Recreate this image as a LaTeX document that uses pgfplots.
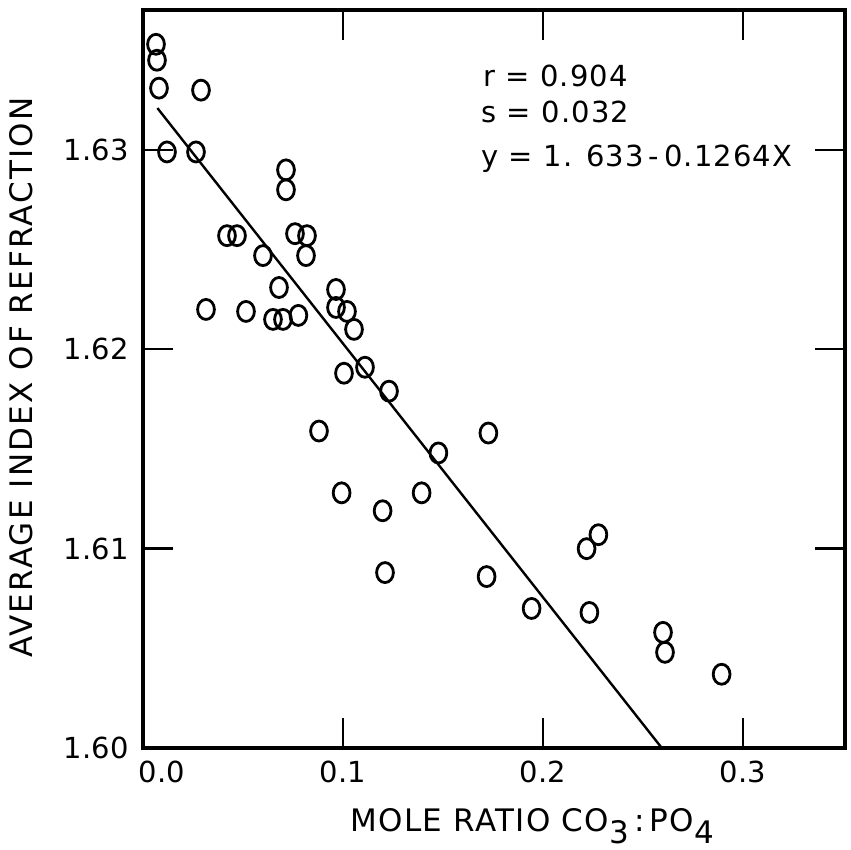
\documentclass[border=0pt]{standalone}
\usepackage{fontspec}
\setmainfont{DejaVu Sans}
\usepackage{pgfplots}
\pgfplotsset{compat=1.18}
\newcommand{\lblfont}{\fontsize{15.5pt}{18pt}\selectfont}
\newcommand{\tkfont}{\fontsize{14.5pt}{17pt}\selectfont}
\begin{document}
\begin{tikzpicture}
\begin{axis}[
  scale only axis, width=351pt, height=369pt,
  xmin=0, xmax=0.351, ymin=1.60, ymax=1.63702,
  axis line style={line width=1.6pt},
  tick align=inside, major tick length=15pt,
  every tick/.style={black, line width=1.2pt},
  xtick={0,0.1,0.2,0.3},
  xticklabels={\hspace*{19pt}0.0,0.1,0.2,0.3},
  ytick={1.60,1.61,1.62,1.63},
  yticklabels={1.60,1.61,1.62,1.63},
  ticklabel style={font=\tkfont},
  xticklabel style={yshift=-3pt},
  yticklabel style={xshift=-3.7pt},
  xlabel={\addfontfeature{LetterSpace=4.5}MOLE RATIO CO\raisebox{-5.5pt}{3}\,:\,PO\raisebox{-5.5pt}{4}},
  ylabel={\addfontfeature{LetterSpace=7}AVERAGE INDEX OF REFRACTION},
  xlabel style={at={(axis description cs:0.5543,-0.1138)}, anchor=base, font=\lblfont},
  ylabel style={at={(axis description cs:-0.1736,0.502)}, anchor=center, font=\lblfont},
  clip=false,
]
\addplot[black, line width=1.2pt] coordinates {(0.0072,1.6321) (0.2594,1.6000)};
\addplot[only marks, mark=o, mark size=5pt, mark options={xscale=0.84, line width=1.4pt, black}] coordinates {
(0.0065,1.6353) (0.0070,1.6345) (0.0080,1.6331) (0.0290,1.6330)
(0.0120,1.6299) (0.0265,1.6299) (0.0715,1.6290) (0.0715,1.6280)
(0.0420,1.6257) (0.0470,1.6257) (0.0760,1.6258) (0.0820,1.6257)
(0.0815,1.6247) (0.0600,1.6247) (0.0680,1.6231) (0.0315,1.6220)
(0.0515,1.6219) (0.0650,1.6215) (0.0700,1.6215) (0.0777,1.6217)
(0.0965,1.6230) (0.0965,1.6221) (0.1020,1.6219) (0.1055,1.6210)
(0.1005,1.6188) (0.1110,1.6191) (0.1230,1.6179) (0.0880,1.6159)
(0.1477,1.6148) (0.1727,1.6158) (0.0993,1.6128) (0.1393,1.6128)
(0.1198,1.6119) (0.1210,1.6088) (0.1718,1.6086) (0.2277,1.6107)
(0.2218,1.6100) (0.1943,1.6070) (0.2232,1.6068) (0.2600,1.6058)
(0.2610,1.6048) (0.2893,1.6037)
};
\node[anchor=base west, inner sep=0, font=\tkfont] at (axis description cs:0.4843,0.8957) {\addfontfeature{LetterSpace=4}r = 0.904};
\node[anchor=base west, inner sep=0, font=\tkfont] at (axis description cs:0.4815,0.8469) {\addfontfeature{LetterSpace=4}s = 0.032};
\node[anchor=base west, inner sep=0, font=\tkfont] at (axis description cs:0.4815,0.7873) {\addfontfeature{LetterSpace=4}y = 1. 633\,{-}\,0.1264X};
\end{axis}
\pgfresetboundingbox
\path[use as bounding box] (current axis.south west) ++(-71.5pt,-50.5pt) rectangle ([xshift=3pt,yshift=5pt]current axis.north east);
\end{tikzpicture}
\end{document}
